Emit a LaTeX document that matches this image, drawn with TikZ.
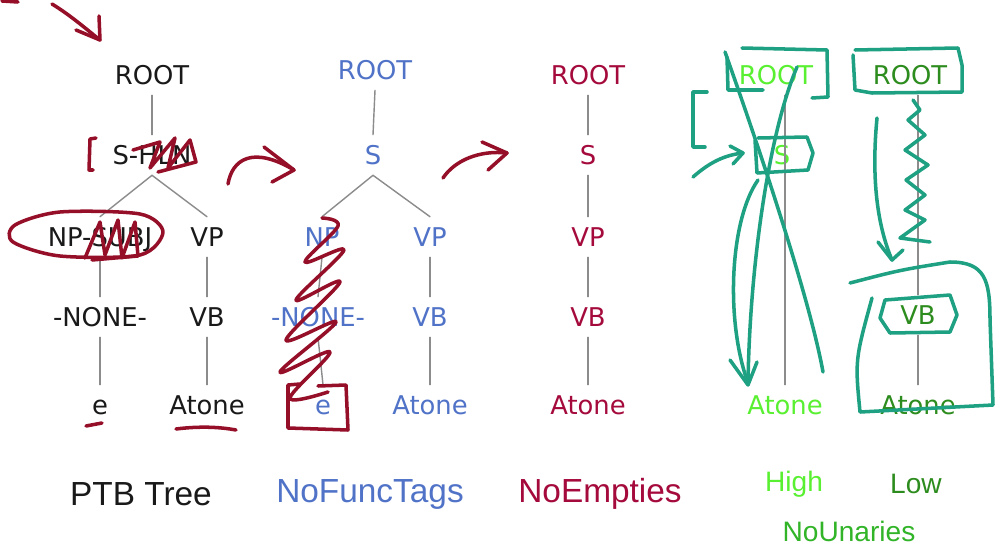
\documentclass[tikz,border=0pt]{standalone}
\usepackage{fontspec}
\setmainfont{DejaVu Sans}
\newfontfamily\labelfont{Liberation Sans}

\definecolor{txtblack}{RGB}{25,25,25}
\definecolor{txtblue}{RGB}{80,115,200}
\definecolor{txtred}{RGB}{165,10,60}
\definecolor{txtlime}{RGB}{90,240,50}
\definecolor{txtgreen}{RGB}{45,140,30}
\definecolor{txtmid}{RGB}{50,180,40}
\definecolor{gry}{RGB}{140,140,140}
\definecolor{penred}{RGB}{150,15,40}
\definecolor{penteal}{RGB}{30,160,130}

\begin{document}
\begin{tikzpicture}[x=0.02cm, y=-0.02cm, line cap=round, line join=round,
	tn/.style={font=\fontsize{14.7}{17}\selectfont, text height=10.7pt, text depth=0pt, inner xsep=2pt, inner ysep=6pt},
	branch/.style={draw=gry, line width=0.8pt},
	lab/.style={font=\labelfont\fontsize{19}{22}\selectfont},
	sublab/.style={font=\labelfont\fontsize{16}{19}\selectfont},
	redpen/.style={draw=penred, line width=2pt},
	tealpen/.style={draw=penteal, line width=2pt}]
	
	% Khung hình
	\fill[white] (0,0) rectangle (1000,554);
	\useasboundingbox (0,0) rectangle (1000,554);
	
	% Cây 1: PTB Tree
	\begin{scope}[txtblack]
		\node[tn] (r1) at (152,75) {ROOT};
		\node[tn] (s1) at (152,155) {S-HLN};
		\node[tn] (np1) at (100,237) {NP-SUBJ};
		\node[tn] (vp1) at (207,237) {VP};
		\node[tn] (none1) at (100,317) {-NONE-};
		\node[tn] (vb1) at (207,317) {VB};
		\node[tn] (e1) at (100,405) {e};
		\node[tn] (at1) at (207,405) {Atone};
	\end{scope}
	\draw[branch] (r1.south) -- (s1.north);
	\draw[branch] (s1.south) -- (np1.north);
	\draw[branch] (s1.south) -- (vp1.north);
	\draw[branch] (np1.south) -- (none1.north);
	\draw[branch] (vp1.south) -- (vb1.north);
	\draw[branch] (none1.south) -- (e1.north);
	\draw[branch] (vb1.south) -- (at1.north);
	
	% Cây 2: NoFuncTags
	\begin{scope}[txtblue]
		\node[tn] (r2) at (375,70) {ROOT};
		\node[tn] (s2) at (373,155) {S};
		\node[tn] (np2) at (322,237) {NP};
		\node[tn] (vp2) at (430,237) {VP};
		\node[tn] (none2) at (318,317) {-NONE-};
		\node[tn] (vb2) at (430,317) {VB};
		\node[tn] (e2) at (323,405) {e};
		\node[tn] (at2) at (430,405) {Atone};
	\end{scope}
	\draw[branch] (r2.south) -- (s2.north);
	\draw[branch] (s2.south) -- (np2.north);
	\draw[branch] (s2.south) -- (vp2.north);
	\draw[branch] (np2.south) -- (none2.north);
	\draw[branch] (vp2.south) -- (vb2.north);
	\draw[branch] (none2.south) -- (e2.north);
	\draw[branch] (vb2.south) -- (at2.north);
	
	% Cây 3: NoEmpties
	\begin{scope}[txtred]
		\node[tn] (r3) at (588,75) {ROOT};
		\node[tn] (s3) at (588,155) {S};
		\node[tn] (vp3) at (588,237) {VP};
		\node[tn] (vb3) at (588,317) {VB};
		\node[tn] (at3) at (588,405) {Atone};
	\end{scope}
	\draw[branch] (r3.south) -- (s3.north);
	\draw[branch] (s3.south) -- (vp3.north);
	\draw[branch] (vp3.south) -- (vb3.north);
	\draw[branch] (vb3.south) -- (at3.north);
	
	% Cây 4: High
	\begin{scope}[txtlime]
		\node[tn] (r4) at (776,75) {ROOT};
		\node[tn] (s4) at (782,155) {S};
		\node[tn] (at4) at (785,405) {Atone};
	\end{scope}
	\draw[branch] (r4.south -| at4.north) -- (at4.north);
	
	% Cây 5: Low
	\begin{scope}[txtgreen]
		\node[tn] (r5) at (910,75) {ROOT};
		\node[tn] (vb5) at (918,315) {VB};
		\node[tn] (at5) at (918,405) {Atone};
	\end{scope}
	\draw[branch] (r5.south -| vb5.north) -- (vb5.north);
	\draw[branch] (vb5.south) -- (at5.north);
	
	% Nhãn dưới các cây
	\node[lab, txtblack] (l1) at (141,494) {PTB Tree};
	\node[lab, txtblue] (l2) at (370,494) {NoFuncTags};
	\node[lab, txtred] (l3) at (600,494) {NoEmpties};
	\node[sublab, txtlime] (l4) at (794,484) {High};
	\node[sublab, txtgreen] (l5) at (916,484) {Low};
	\node[sublab, txtmid] (l6) at (849,531) {NoUnaries};
	
	% Nét bút đỏ
	\draw[redpen] (2,1) -- (18,2);
	\draw[redpen] (52,4) .. controls (70,15) and (85,28) .. (100,40);
	\draw[redpen] (76,30) -- (100,40) -- (99,16);
	\draw[redpen] (96,138) -- (90,139) -- (89,170) -- (93,170);
	\draw[redpen] (133,150) -- (160,142) -- (150,168) -- (175,138) -- (168,168) -- (190,140) -- (196,162) -- (158,172);
	\draw[redpen] plot[smooth cycle] coordinates {(15,225) (60,212) (140,214) (163,232) (140,255) (60,256) (13,242)};
	\draw[redpen] (85,258) -- (100,222) -- (105,255) -- (118,220) -- (122,258) -- (135,222) -- (138,256) -- (92,260);
	\draw[redpen] (228,184) .. controls (232,160) and (252,145) .. (294,170);
	\draw[redpen] (264,147) -- (294,170) -- (272,182);
	\draw[redpen] plot[smooth, tension=0.6] coordinates {(322,218) (338,226) (305,262) (344,250) (296,300) (340,282) (286,340) (336,322) (280,372) (330,352) (290,398) (328,392)};
	\draw[redpen] (300,384) -- (288,385) -- (288,428) -- (348,430) -- (346,385) -- (318,386);
	\draw[redpen] (443,178) .. controls (455,160) and (480,150) .. (507,153);
	\draw[redpen] (482,142) -- (507,153) -- (488,170);
	\draw[redpen] (86,426) -- (102,423);
	\draw[redpen] (176,429) .. controls (200,426) and (220,427) .. (236,430);
	
	% Nét bút xanh: High
	\draw[tealpen] (742,48) -- (827,50) -- (828,97) -- (812,98);
	\draw[tealpen] (727,57) -- (728,90) -- (763,90);
	\draw[tealpen] (707,92) -- (693,92) -- (693,147) -- (705,147);
	\draw[tealpen] (693,177) .. controls (710,162) and (725,155) .. (743,153);
	\draw[tealpen] (730,146) -- (743,153) -- (733,164);
	\draw[tealpen] (758,138) -- (807,137) -- (813,153) -- (808,170) -- (757,173) -- (755,140);
	\draw[tealpen] (725,52) .. controls (760,150) and (810,300) .. (823,372);
	\draw[tealpen] (797,67) .. controls (770,130) and (750,260) .. (748,382);
	\draw[tealpen] (758,180) .. controls (730,220) and (725,320) .. (748,383);
	\draw[tealpen] (730,360) -- (748,385) -- (757,362);
	
	% Nét bút xanh: Low
	\draw[tealpen] (855,50) -- (958,48) -- (962,65) -- (962,92) -- (872,93) -- (855,90) -- (853,55);
	\draw[tealpen] (913,100) -- (920,110) -- (908,120) -- (925,135) -- (905,150) -- (928,165) -- (906,180) -- (925,195) -- (905,210) -- (925,220) -- (900,238) -- (930,242);
	\draw[tealpen] (877,118) .. controls (872,170) and (875,220) .. (892,260);
	\draw[tealpen] (878,242) -- (892,260) -- (903,250);
	\draw[tealpen] (850,283) .. controls (900,270) .. (950,262) .. controls (985,262) and (990,280) .. (990,320) -- (993,405) -- (860,412) .. controls (855,360) .. (872,298);
	\draw[tealpen] (885,300) -- (950,295) -- (957,315) -- (950,332) -- (890,333) -- (880,318) -- cycle;
	
\end{tikzpicture}
\end{document}
